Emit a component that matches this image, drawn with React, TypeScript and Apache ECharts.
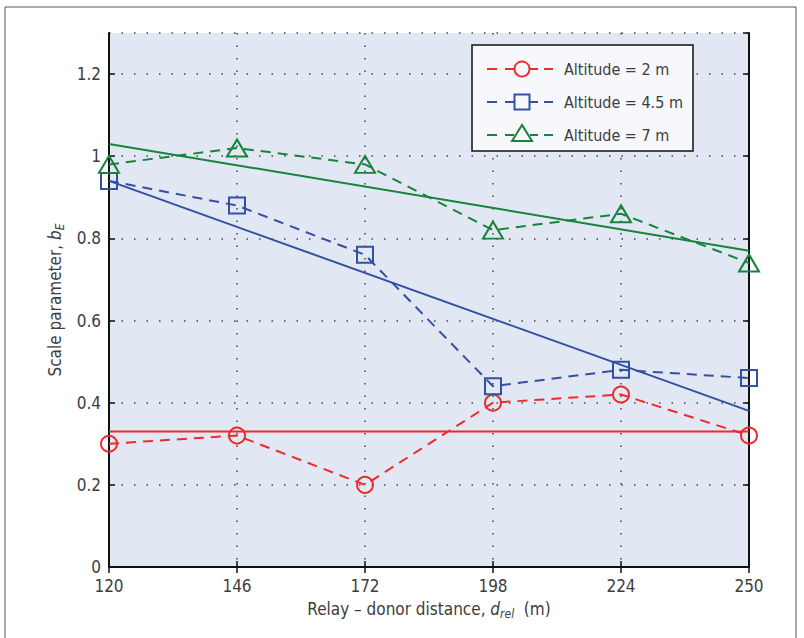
import React, { useEffect, useRef } from "react";
import * as echarts from "echarts";

const categories = ["120", "146", "172", "198", "224", "250"];
const alt2 = [0.3, 0.32, 0.2, 0.4, 0.42, 0.32];
const alt45 = [0.94, 0.88, 0.76, 0.44, 0.48, 0.46];
const alt7 = [0.98, 1.02, 0.98, 0.82, 0.86, 0.74];
// fitted lines: value at first and last distance
const fit2 = [0.33, 0.33];
const fit45 = [0.94, 0.38];
const fit7 = [1.03, 0.77];
const legendNames = ["Altitude = 2 m", "Altitude = 4.5 m", "Altitude = 7 m"];

const RED = "#ee2b2b";
const BLUE = "#3350a3";
const GREEN = "#17843c";
const FONT = "'Liberation Sans Narrow', 'DejaVu Sans Condensed', 'Noto Sans', sans-serif";
const TXT = "#3d3d3d";

const fitData = (f: number[]) =>
  categories.map((_, i) => (i === 0 ? f[0] : i === categories.length - 1 ? f[1] : null));

export default function App() {
  const ref = useRef<HTMLDivElement>(null);
  useEffect(() => {
    if (!ref.current) return;
    const chart = echarts.init(ref.current, null, { renderer: "svg" });
    const gridL = 109, gridT = 33, gridW = 640, gridH = 534;

    const dashed = (name: string, data: number[], color: string, symbol: string, size: any) => ({
      name,
      type: "line",
      data,
      symbol,
      symbolSize: size,
      showSymbol: true,
      lineStyle: { color, width: 2, type: [10, 7] },
      itemStyle: { color: "rgba(0,0,0,0)", borderColor: color, borderWidth: 2 },
      z: 3,
    });
    const solid = (data: number[], color: string) => ({
      type: "line",
      data: fitData(data),
      connectNulls: true,
      showSymbol: false,
      symbol: "none",
      lineStyle: { color, width: 2 },
      z: 2,
    });

    const legendRows = [
      { y: 69, color: RED, shape: "circle" },
      { y: 102, color: BLUE, shape: "rect" },
      { y: 135, color: GREEN, shape: "tri" },
    ];
    const legendEls: any[] = [
      {
        type: "rect",
        shape: { x: 472, y: 45, width: 221, height: 106 },
        style: { fill: "#f6f8fc", stroke: "#111", lineWidth: 1.5 },
        z: 100,
      },
    ];
    legendRows.forEach((r, i) => {
      const segs = [
        [487, 497],
        [505, 514],
        [530, 538],
        [544, 553],
      ];
      segs.forEach(([a, b]) =>
        legendEls.push({
          type: "line",
          shape: { x1: a, y1: r.y, x2: b, y2: r.y },
          style: { stroke: r.color, lineWidth: 2 },
          z: 101,
        })
      );
      if (r.shape === "circle") {
        legendEls.push({
          type: "circle",
          shape: { cx: 522, cy: r.y, r: 7.5 },
          style: { fill: "none", stroke: r.color, lineWidth: 2 },
          z: 101,
        });
      } else if (r.shape === "rect") {
        legendEls.push({
          type: "rect",
          shape: { x: 514.5, y: r.y - 7.5, width: 15, height: 15 },
          style: { fill: "none", stroke: r.color, lineWidth: 2 },
          z: 101,
        });
      } else {
        legendEls.push({
          type: "polygon",
          shape: { points: [[522, r.y - 10], [512, r.y + 6], [532, r.y + 6]] },
          style: { fill: "none", stroke: r.color, lineWidth: 2 },
          z: 101,
        });
      }
      legendEls.push({
        type: "text",
        x: 564,
        y: r.y,
        style: {
          text: legendNames[i],
          fill: TXT,
          font: `16px ${FONT}`,
          verticalAlign: "middle",
          align: "left",
        },
        z: 101,
      });
    });

    const tickStyle = { show: true, inside: true, length: 6, lineStyle: { color: "#111", width: 1.5 } };
    const axisLineStyle = { show: true, lineStyle: { color: "#111", width: 2 } };
    const gridLine = { show: true, lineStyle: { color: "#444", width: 1.5, type: [1.5, 11] } };

    chart.setOption({
      animation: false,
      textStyle: { fontFamily: FONT },
      grid: {
        left: gridL,
        top: gridT,
        width: gridW,
        height: gridH,
        show: true,
        backgroundColor: "#e1e8f4",
        borderWidth: 0,
      },
      xAxis: [
        {
          type: "category",
          data: categories,
          boundaryGap: false,
          position: "bottom",
          axisLine: axisLineStyle,
          axisTick: tickStyle,
          splitLine: gridLine,
          axisLabel: { color: TXT, fontSize: 17, margin: 10, fontFamily: FONT },
          name: "Relay – donor distance, {i|d}{sub|rel}  (m)",
          nameLocation: "middle",
          nameGap: 31,
          nameTextStyle: {
            color: TXT,
            fontSize: 17,
            fontFamily: FONT,
            rich: {
              i: { fontStyle: "italic", fontSize: 17, color: TXT, fontFamily: FONT },
              sub: { fontStyle: "italic", fontSize: 12, color: TXT, fontFamily: FONT, padding: [10, 0, 0, 0] },
            },
          },
        },
        {
          type: "category",
          data: categories,
          boundaryGap: false,
          position: "top",
          axisLine: axisLineStyle,
          axisTick: tickStyle,
          axisLabel: { show: false },
          splitLine: { show: false },
        },
      ],
      yAxis: [
        {
          type: "value",
          min: 0,
          max: 1.3,
          interval: 0.2,
          position: "left",
          axisLine: axisLineStyle,
          axisTick: tickStyle,
          splitLine: gridLine,
          axisLabel: { color: TXT, fontSize: 17, margin: 8, fontFamily: FONT, showMaxLabel: false },
          name: "Scale parameter, {i|b}{sub|E}",
          nameLocation: "middle",
          nameGap: 41,
          nameTextStyle: {
            color: TXT,
            fontSize: 17,
            fontFamily: FONT,
            rich: {
              i: { fontStyle: "italic", fontSize: 17, color: TXT, fontFamily: FONT },
              sub: { fontStyle: "italic", fontSize: 12, color: TXT, fontFamily: FONT, padding: [10, 0, 0, 0] },
            },
          },
        },
        {
          type: "value",
          min: 0,
          max: 1.3,
          interval: 0.2,
          position: "right",
          axisLine: axisLineStyle,
          axisTick: tickStyle,
          axisLabel: { show: false },
          splitLine: { show: false },
        },
      ],
      series: [
        solid(fit2, RED),
        solid(fit45, BLUE),
        solid(fit7, GREEN),
        dashed(legendNames[0], alt2, RED, "circle", 16),
        dashed(legendNames[1], alt45, BLUE, "rect", 16),
        dashed(legendNames[2], alt7, GREEN, "triangle", [20, 17]),
      ],
      graphic: [
        {
          type: "rect",
          shape: { x: 5, y: 7, width: 791, height: 660 },
          style: { fill: "none", stroke: "#555", lineWidth: 1 },
          silent: true,
          z: 0,
        },
        ...legendEls,
      ],
    });
    return () => chart.dispose();
  }, []);
  return (
    <div
      ref={ref}
      style={{ position: "fixed", left: 0, top: 0, width: 804, height: 638, background: "#fff" }}
    />
  );
}
